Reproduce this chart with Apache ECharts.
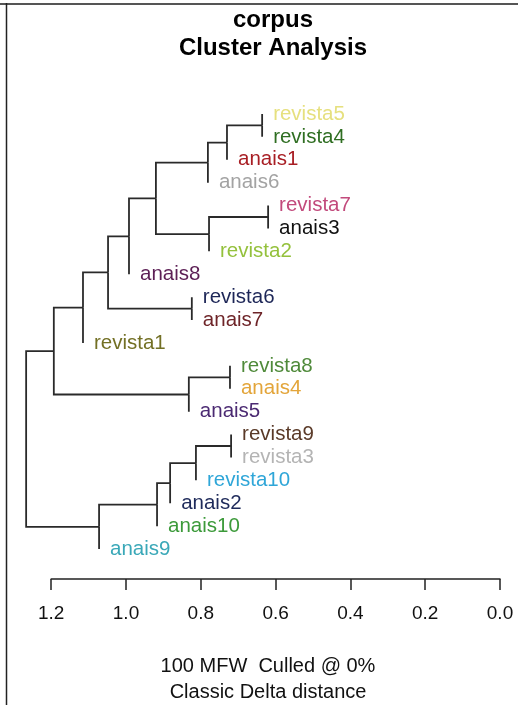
<!DOCTYPE html>
<html><head><meta charset="utf-8">
<script src="https://cdn.jsdelivr.net/npm/echarts@6/dist/echarts.min.js"></script>
<style>html,body{margin:0;padding:0;background:#fff}#c{width:518px;height:705px}</style>
</head><body><div id="c"></div>
<script>
// Leaves, top to bottom
const leaves = ['revista5','revista4','anais1','anais6','revista7','anais3','revista2','anais8','revista6','anais7','revista1','revista8','anais4','anais5','revista9','revista3','revista10','anais2','anais10','anais9'];
const leafColors = ['#e6e07e','#2f6e22','#a81e24','#a3a3a3','#c24a7c','#111111','#94c13c','#5c1f55','#1d2657','#6e2428','#737025','#4f8a3a','#e3a53a','#4b2a72','#5a3a28','#b4b4b4','#2fa6d8','#1e2a5a','#3c9a3a','#3aa8b8'];
// Merges (hclust-like): Nk refers to the k-th merge
const mergeLeft  = ['revista5','N1','N2','revista7','N4','N3','N6','revista6','N7','N9','revista8','N11','N10','revista9','N14','N15','N16','N17','N13'];
const mergeRight = ['revista4','anais1','anais6','anais3','revista2','N5','anais8','anais7','N8','revista1','anais4','anais5','N12','revista3','revista10','anais2','anais10','anais9','N18'];
const mergeHeights = [0.636,0.730,0.781,0.620,0.778,0.920,0.992,0.824,1.048,1.115,0.722,0.832,1.193,0.719,0.813,0.882,0.917,1.072,1.267];
const axisTicks = [0.0,0.2,0.4,0.6,0.8,1.0,1.2];

const titleText = 'corpus\nCluster Analysis';
const subText = '100 MFW  Culled @ 0%\nClassic Delta distance';

// build geometry in data space
const nodeY = {}, nodeX = {};
leaves.forEach((n,i)=>{ nodeY[n]=i; nodeX[n]=null; });
const edges = [];
const leafPts = [];
mergeHeights.forEach((h,k)=>{
  const id = 'N'+(k+1);
  const a = mergeLeft[k], b = mergeRight[k];
  const y = (nodeY[a]+nodeY[b])/2;
  nodeY[id]=y; nodeX[id]=h;
  [a,b].forEach(c=>{
    const cy = nodeY[c];
    if (nodeX[c]===null) {
      edges.push({coords:[[h,y],[h,cy]]});
      const li = leaves.indexOf(c);
      leafPts.push({name:c, value:[h,cy], label:{color:leafColors[li]}});
    } else {
      edges.push({coords:[[h,y],[h,cy],[nodeX[c],cy]]});
    }
  });
});

const FONT = 'Liberation Sans, Arial, Helvetica, sans-serif';
const chart = echarts.init(document.getElementById('c'), null, {renderer:'canvas'});
chart.setOption({
  animation:false,
  backgroundColor:'#fff',
  title:[
    {text:titleText, left:268, top:1, textAlign:'center',
     textStyle:{fontFamily:FONT, fontSize:24, fontWeight:'bold', color:'#000', lineHeight:28}},
    {text:subText, left:263, top:648, textAlign:'center',
     textStyle:{fontFamily:FONT, fontSize:20, fontWeight:'normal', color:'#111', lineHeight:26}}
  ],
  graphic:[
    {type:'line', shape:{x1:0,y1:4,x2:518,y2:4}, style:{stroke:'#555',lineWidth:2}},
    {type:'line', shape:{x1:6.5,y1:3,x2:6.5,y2:705}, style:{stroke:'#222',lineWidth:1.5}}
  ],
  grid:[
    {left:13.8, right:18, top:102.5, height:458, containLabel:false},
    {left:51.2, right:18, top:560, height:19}
  ],
  xAxis:[
    {gridIndex:0, type:'value', min:0, max:1.3, inverse:true, show:false},
    {gridIndex:1, type:'value', min:0, max:1.2, interval:0.2, inverse:true, position:'bottom',
     axisLine:{show:true, lineStyle:{color:'#222', width:1.5}},
     axisTick:{show:true, length:11, inside:false, lineStyle:{color:'#222', width:1.5}},
     splitLine:{show:false},
     axisLabel:{show:true, margin:25, showMinLabel:true, showMaxLabel:true,
       fontFamily:FONT, fontSize:19, color:'#111',
       formatter:v=>v.toFixed(1)}}
  ],
  yAxis:[
    {gridIndex:0, type:'value', min:-0.5, max:19.5, inverse:true, show:false},
    {gridIndex:1, type:'value', min:0, max:1, show:false}
  ],
  series:[
    {type:'lines', coordinateSystem:'cartesian2d', xAxisIndex:0, yAxisIndex:0, polyline:true,
     silent:true, lineStyle:{color:'#2a2a2a', width:1.8, opacity:1}, data:edges},
    {type:'scatter', xAxisIndex:0, yAxisIndex:0, symbolSize:0, silent:true,
     itemStyle:{opacity:1},
     label:{show:true, position:'right', distance:11, formatter:p=>p.name,
       fontFamily:FONT, fontSize:20.5}, data:leafPts},
    {type:'scatter', xAxisIndex:1, yAxisIndex:1, symbolSize:0, data:[]}
  ]
});
</script></body></html>
